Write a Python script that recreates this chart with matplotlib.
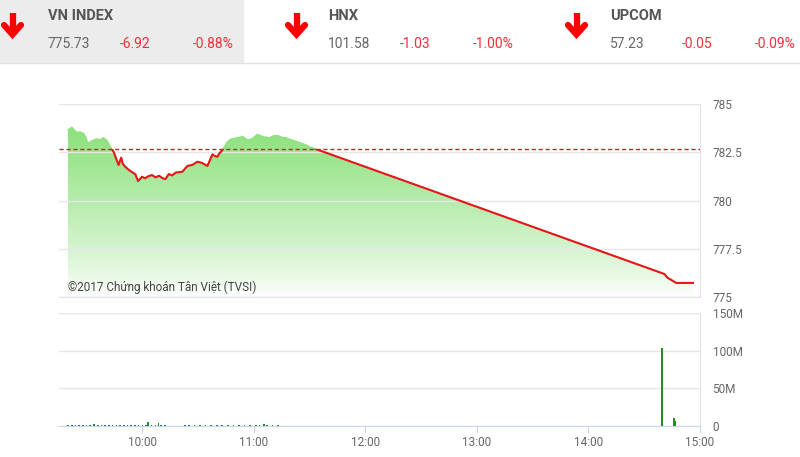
import numpy as np
import matplotlib
matplotlib.use("Agg")
import matplotlib.pyplot as plt
from matplotlib.patches import Rectangle
from matplotlib.ticker import FixedLocator, FuncFormatter

plt.rcParams['font.family'] = ['Roboto', 'DejaVu Sans']

# header quotes
indices = ['VN INDEX', 'HNX', 'UPCOM']
last_values = ['775.73', '101.58', '57.23']
changes = ['-6.92', '-1.03', '-0.05']
pct_changes = ['-0.88%', '-1.00%', '-0.09%']

# price series (minutes after 9:00)
price_time = [20, 22, 24.7, 26.5, 28.3, 29.5, 30.6, 33, 35.5, 37.3, 39.1, 41, 42.7, 44.5,
              45.8, 47.2, 48.6, 49.5, 50.8, 52.5, 54, 56.2, 57.7, 59.8, 61.5, 63, 65.2,
              67, 69, 71, 72.4, 74.2, 76, 78, 81.5, 84.2, 87, 89.6, 92, 95, 97.7, 99,
              100.4, 101.5, 103.1, 105.8, 108, 111.2, 114, 116.6, 119, 122, 125, 128.3,
              130.5, 132.8, 135, 137.3, 140, 144, 148, 150, 340.9, 342.5, 347.2, 356.2]
price_value = [783.65, 783.79, 783.53, 783.55, 783.48, 783.3, 782.96, 783.1, 783.19, 783.15,
               783.25, 783.1, 782.79, 782.53, 782.2, 781.84, 782.22, 781.9, 781.75, 781.6,
               781.5, 781.36, 781.01, 781.23, 781.15, 781.25, 781.32, 781.2, 781.28, 781.15,
               781.11, 781.37, 781.3, 781.45, 781.49, 781.79, 781.85, 782.01, 781.95, 781.79,
               782.39, 782.3, 782.27, 782.45, 782.62, 783.05, 783.2, 783.25, 783.31, 783.13,
               783.2, 783.43, 783.3, 783.25, 783.35, 783.36, 783.28, 783.25, 783.15, 783.02,
               782.88, 782.78, 776.19, 776.0, 775.73, 775.73]
ref_price = 782.65

# volume (millions)
vol_time = [20, 22, 24, 26, 28, 30, 32, 34, 36, 38, 40, 42, 44, 46, 48, 50, 52, 54, 56,
            58, 60, 62, 63, 65, 67, 68.7, 70, 72, 83, 85, 88, 91, 94, 97, 100, 103, 106,
            109, 112, 115, 118, 121, 123, 125.4, 127, 130, 133, 339.5, 346, 346.6]
vol_value = [1.0, 1.2, 0.8, 1.1, 0.9, 1.3, 1.0, 2.2, 1.0, 0.9, 1.1, 1.2, 0.8, 1.0, 1.1,
             0.9, 1.0, 1.2, 0.9, 1.1, 1.0, 2.0, 5.5, 1.0, 1.5, 4.0, 1.2, 1.0, 1.0, 1.3,
             0.9, 1.1, 1.0, 1.2, 1.0, 1.1, 0.9, 1.0, 1.2, 1.0, 0.9, 1.1, 1.4, 3.0, 1.0,
             0.8, 1.0, 103.5, 11.0, 7.0]

x_ticks = [60, 120, 180, 240, 300, 360]
x_labels = ['10:00', '11:00', '12:00', '13:00', '14:00', '15:00']

grid_c = '#e6e6e6'
axis_c = '#ccd6eb'
label_c = '#666666'
red = '#f0303a'

fig = plt.figure(figsize=(8, 4.57), dpi=100)

# header drawn in pixel coordinates
bg = fig.add_axes([0, 0, 1, 1])
bg.set_xlim(0, 800)
bg.set_ylim(457, 0)
bg.axis('off')
bg.add_patch(Rectangle((0, 0), 243, 62, color='#ececec', zorder=0))
bg.plot([0, 800], [62.5, 62.5], color='#e2e2e2', lw=1)
arrow_x = [12.5, 296.5, 576.5]
text_x = [48, 328, 610]
for i in range(3):
    ax0 = arrow_x[i]
    bg.plot([ax0, ax0], [13, 33], color='#ff0000', lw=4.5, solid_capstyle='butt')
    bg.plot([ax0 - 8.5, ax0, ax0 + 8.5], [25, 34.5, 25], color='#ff0000', lw=4.5,
            solid_joinstyle='miter', solid_capstyle='round')
    tx = text_x[i]
    bg.text(tx, 16, indices[i], fontsize=10.5, fontweight='bold', color='#555555', va='center')
    bg.text(tx, 44, last_values[i], fontsize=10, color='#666666', va='center')
    bg.text(tx + 72, 44, changes[i], fontsize=10, color=red, va='center')
    bg.text(tx + 144.5, 44, pct_changes[i], fontsize=10, color=red, va='center')

# price chart
ax = fig.add_axes([0.0734, 0.3501, 0.8016, 0.4223])
ax.set_xlim(15, 360)
ax.set_ylim(775, 785)
t = np.array(price_time)
p = np.array(price_value)
poly = ax.fill_between(t, p, 775, color='none', lw=0)
grad = np.linspace(0, 1, 256) ** 0.8
top = np.array([0.50, 0.87, 0.43])
rgb = np.ones((256, 1, 4))
for k in range(256):
    rgb[k, 0, :3] = top + (1 - top) * (1 - grad[k])
im = ax.imshow(rgb, extent=[15, 360, 775, 785], origin='lower', aspect='auto', zorder=1)
im.set_clip_path(poly.get_paths()[0], transform=ax.transData)
ax.plot(t, p, color='#8fe07f', lw=1, zorder=2)
red_line, = ax.plot(t, p, color='#e8161b', lw=1.5, zorder=3)
clip = Rectangle((0, 770), 400, ref_price - 770, transform=ax.transData)
red_line.set_clip_path(clip)
ax.axhline(ref_price, color='#e8161b', lw=1, dashes=(3, 2), zorder=4)
ax.yaxis.tick_right()
ax.yaxis.set_major_locator(FixedLocator([775, 777.5, 780, 782.5, 785]))
ax.yaxis.set_major_formatter(FuncFormatter(lambda v, pos: f'{v:g}'))
ax.tick_params(axis='y', length=0, pad=9, labelsize=8.5, labelcolor=label_c)
ax.set_xticks([])
ax.grid(axis='y', color=grid_c, lw=1, zorder=0)
for s in ['top', 'left']:
    ax.spines[s].set_visible(False)
ax.spines['right'].set_color('#dde3ea')
ax.spines['bottom'].set_color('#dde3ea')
ax.text(20, 775.5, '©2017 Chứng khoán Tân Việt (TVSI)', fontsize=8.5, color='#444444',
        va='center', zorder=5)

# volume chart
axv = fig.add_axes([0.0734, 0.0678, 0.8016, 0.2473])
axv.set_xlim(15, 360)
axv.set_ylim(0, 150)
axv.bar(vol_time, vol_value, width=0.9, color='#2a8a2a', zorder=3)
axv.yaxis.tick_right()
axv.set_yticks([0, 50, 100, 150])
axv.set_yticklabels(['0', '50M', '100M', '150M'])
axv.tick_params(axis='y', length=0, pad=9, labelsize=8.5, labelcolor=label_c)
axv.set_xticks(x_ticks)
axv.set_xticklabels(x_labels)
axv.tick_params(axis='x', length=5, color=axis_c, labelsize=8.5, labelcolor=label_c, pad=2)
axv.grid(axis='y', color=grid_c, lw=1, zorder=0)
for s in ['top', 'left']:
    axv.spines[s].set_visible(False)
axv.spines['right'].set_color('#dde3ea')
axv.spines['bottom'].set_color(axis_c)

fig.savefig('out.png', dpi=100)
